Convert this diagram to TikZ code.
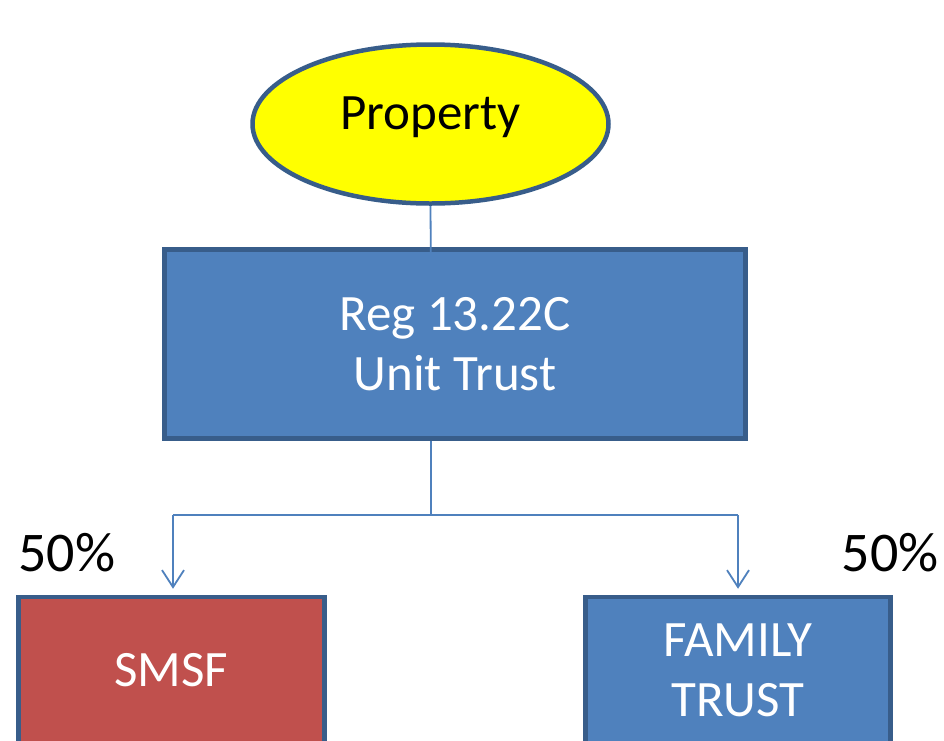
\documentclass[tikz,border=0pt]{standalone}
\usepackage{fontspec}
\setmainfont{Carlito}
\usetikzlibrary{shapes.geometric,arrows.meta}
\definecolor{bordblue}{HTML}{385D8A}
\definecolor{fillblue}{HTML}{4F81BD}
\definecolor{fillred}{HTML}{C0504D}
\definecolor{linkblue}{HTML}{4F81BD}
\definecolor{propyellow}{HTML}{FFFF00}
\tikzset{
  boxstyle/.style={draw=bordblue, line width=4.5pt, rectangle, inner sep=0pt, align=center, text=white, font=\fontsize{51}{60}\selectfont},
  linkstyle/.style={draw=linkblue, line width=1.8pt},
  arrowstyle/.style={linkstyle, -{Straight Barb[length=17pt,width=22pt,line width=1.8pt]}, shorten >=6pt},
  pctstyle/.style={font=\fontsize{56}{60}\selectfont, inner sep=0pt}
}
\begin{document}
\begin{tikzpicture}[x=1pt,y=-1pt]
\useasboundingbox (0,0) rectangle (944,740);
\fill[white] (0,0) rectangle (944,740);
% nodes
\node[ellipse, draw=bordblue, fill=propyellow, line width=4.5pt, minimum width=356pt, minimum height=159pt, inner sep=0pt, font=\fontsize{51}{60}\selectfont] (prop) at (430.5,124) {\raisebox{22pt}{Property}};
\node[boxstyle, fill=fillblue, minimum width=581pt, minimum height=189pt] (unit) at (455,344) {Reg 13.22C\\Unit Trust};
\node[boxstyle, fill=fillred, minimum width=306pt, minimum height=146pt] (smsf) at (171.5,670) {SMSF};
\node[boxstyle, fill=fillblue, minimum width=305pt, minimum height=146pt] (fam) at (738,670) {FAMILY\\TRUST};
\node[pctstyle] (pl) at (67,553) {50\%};
\node[pctstyle] (pr) at (890,553) {50\%};
% connectors
\coordinate (pend) at (431,287);
\coordinate (ustart) at (431,441);
\coordinate (split) at (431,515);
\coordinate (lbend) at (173,515);
\coordinate (rbend) at (738,515);
\draw[linkstyle] (prop.south) -- (pend);
\draw[linkstyle] (ustart) -- (split);
\draw[linkstyle] (lbend) -- (rbend);
\draw[arrowstyle] (lbend) -- (lbend |- smsf.north);
\draw[arrowstyle] (rbend) -- (rbend |- fam.north);
\end{tikzpicture}
\end{document}
